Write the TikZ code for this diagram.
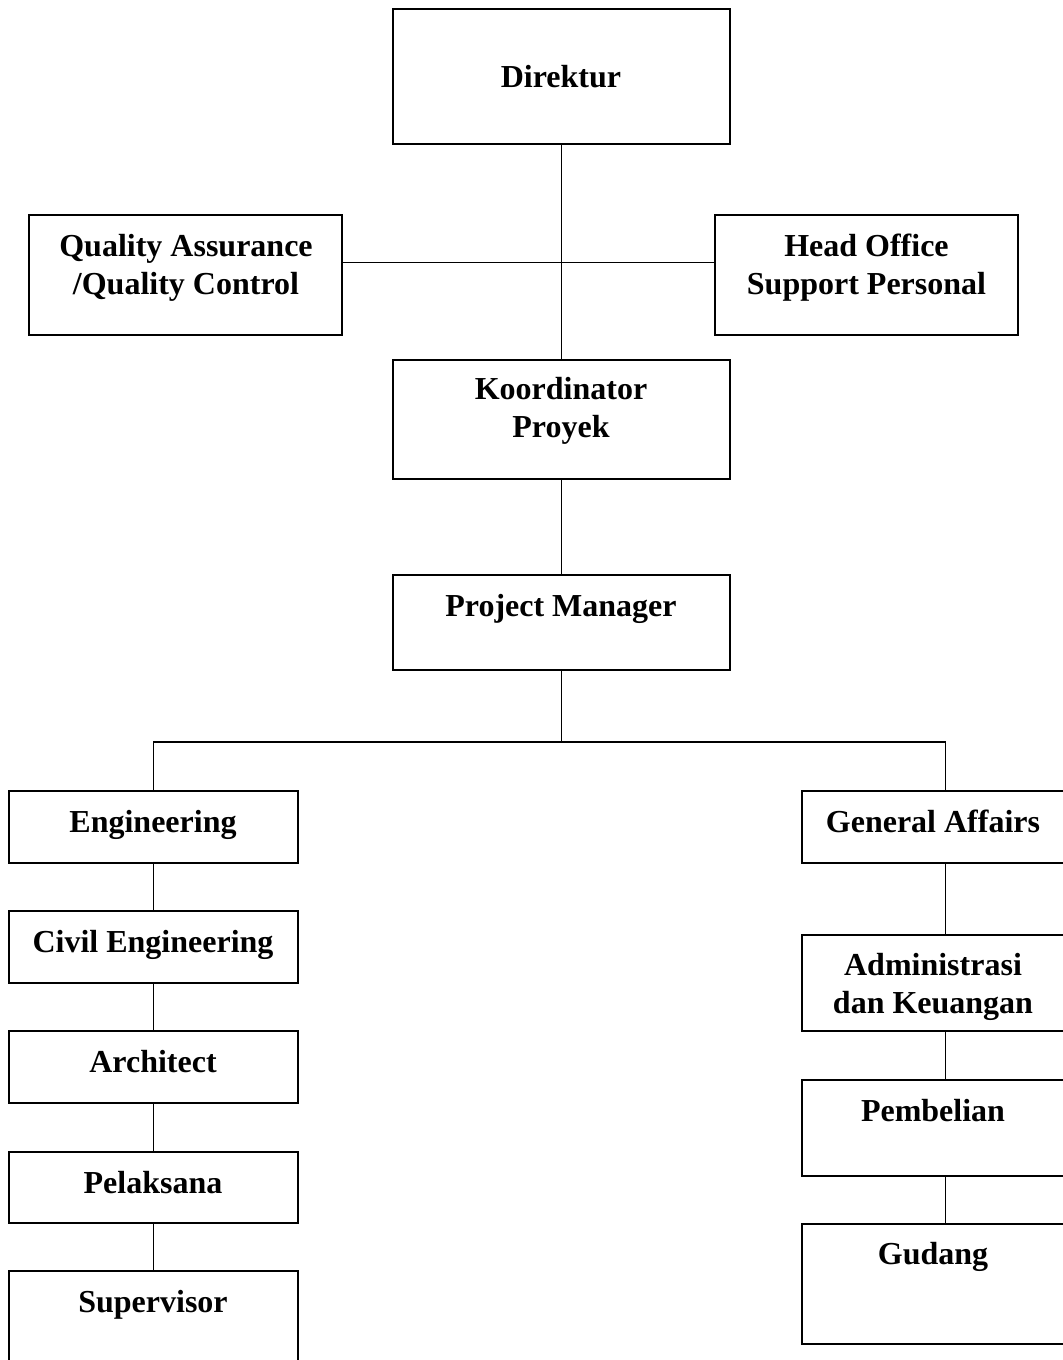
\documentclass[tikz,border=0pt]{standalone}
\usepackage{fontspec}
\setmainfont{Liberation Serif}
\usetikzlibrary{fit}

\tikzset{
  unitbox/.style={draw, line width=1.5pt, inner sep=0pt},
  unitname/.style={font=\bfseries\fontsize{24}{28.5}\selectfont, align=center, anchor=base, inner sep=0pt},
  link/.style={line width=1pt}
}

\begin{document}
\begin{tikzpicture}[x=0.75pt, y=-0.75pt]
  \useasboundingbox (0,0) rectangle (1063,1360);

  % top of the chart
  \node[unitbox, fit={(393,8.5) (730,143.5)}] (dir) {};
  \node[unitname] (dir-t) at (561,87) {Direktur};
  \node[unitbox, fit={(29,215) (341.5,335)}] (qa) {};
  \node[unitname] (qa-t) at (186,294) {Quality Assurance\\/Quality Control};
  \node[unitbox, fit={(715,215) (1018,335)}] (hos) {};
  \node[unitname] (hos-t) at (866.5,294) {Head Office\\Support Personal};
  \node[unitbox, fit={(393,359.5) (730,478.5)}] (koor) {};
  \node[unitname] (koor-t) at (561,437.5) {Koordinator\\Proyek};
  \node[unitbox, fit={(393,575) (730,670)}] (pm) {};
  \node[unitname] (pm-t) at (561,616.5) {Project Manager};

  % left column
  \node[unitbox, fit={(9,791) (297.5,862.5)}] (eng) {};
  \node[unitname] (eng-t) at (153,832) {Engineering};
  \node[unitbox, fit={(9,911) (297.5,982.5)}] (civ) {};
  \node[unitname] (civ-t) at (153,952) {Civil Engineering};
  \node[unitbox, fit={(9,1031) (297.5,1102.5)}] (arch) {};
  \node[unitname] (arch-t) at (153,1072) {Architect};
  \node[unitbox, fit={(9,1151.5) (297.5,1222.5)}] (pel) {};
  \node[unitname] (pel-t) at (153,1193) {Pelaksana};
  \node[unitbox, fit={(9,1271) (297.5,1380)}] (sup) {};
  \node[unitname] (sup-t) at (153,1312) {Supervisor};

  % right column
  \node[unitbox, fit={(801.5,791) (1089.5,862.5)}] (ga) {};
  \node[unitname] (ga-t) at (933,832) {General Affairs};
  \node[unitbox, fit={(801.5,935) (1089.5,1030.5)}] (adm) {};
  \node[unitname] (adm-t) at (933,1013.5) {Administrasi\\dan Keuangan};
  \node[unitbox, fit={(801.5,1079.5) (1089.5,1175.5)}] (buy) {};
  \node[unitname] (buy-t) at (933,1121.5) {Pembelian};
  \node[unitbox, fit={(801.5,1223.5) (1089.5,1343.5)}] (gud) {};
  \node[unitname] (gud-t) at (933,1264) {Gudang};

  \coordinate (staff) at (561.5,262.5);
  \coordinate (split) at (561.5,742);
  \draw[link] (dir.south) -- (koor.north);
  \draw[link] (qa.east |- staff) -- (hos.west |- staff);
  \draw[link] (koor.south) -- (pm.north);
  \draw[link] (pm.south) -- (split);
  \draw[link] (eng.north) |- (split) -| (ga.north);
  \foreach \a/\b in {eng/civ, civ/arch, arch/pel, pel/sup, ga/adm, adm/buy, buy/gud}
    \draw[link] (\a.south) -- (\b.north);
\end{tikzpicture}
\end{document}
